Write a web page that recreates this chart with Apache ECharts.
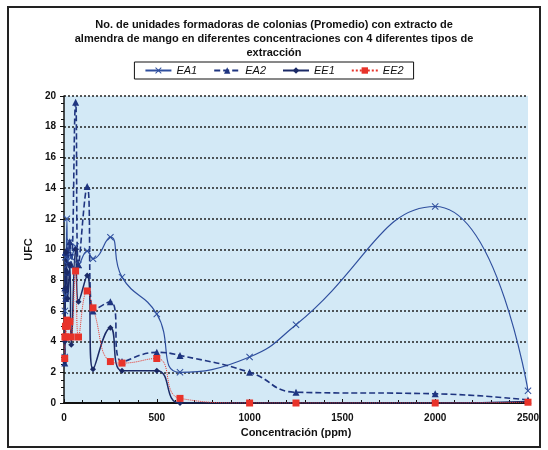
<!DOCTYPE html>
<html>
<head>
<meta charset="utf-8">
<script src="https://cdn.jsdelivr.net/npm/echarts@6/dist/echarts.min.js"></script>
<style>
  html, body { margin: 0; padding: 0; background: #fff; }
  #chart { width: 548px; height: 450px; }
</style>
</head>
<body>
<div id="chart"></div>
<script>
// concentraciones (ppm), ordenadas
var conc = [3.9, 4.88, 7.8, 9.77, 15.6, 19.53, 31.25, 39.06, 62.5, 78.125, 125, 156.25, 250, 312.5, 500, 625, 1000, 1250, 2000, 2500];

// UFC promedio por tipo de extraccion
var ea1 = [3.0, 6.0, 9.5, 7.0, 12.0, 9.0, 10.5, 9.5, 10.2, 9.0, 9.9, 9.4, 10.8, 8.2, 5.8, 2.0, 3.0, 5.1, 12.8, 0.8];
var ea2 = [2.6, 7.5, 9.8, 6.8, 10.0, 8.5, 10.5, 9.0, 19.6, 9.0, 14.1, 6.0, 6.6, 2.7, 3.3, 3.1, 2.0, 0.7, 0.6, 0.2];
var ee1 = [2.7, 4.0, 7.5, 9.8, 8.5, 6.8, 9.0, 3.8, 10.0, 6.6, 8.3, 2.2, 4.9, 2.1, 2.1, 0, 0, 0, 0, 0.1];
var ee2 = [2.9, 4.3, 5.0, 4.3, 5.4, 5.0, 5.3, 4.3, 8.6, 4.3, 7.3, 6.2, 2.7, 2.6, 2.9, 0.3, 0, 0, 0, 0.05];

var titulo = 'No. de unidades formadoras de colonias (Promedio) con extracto de\nalmendra de mango en diferentes concentraciones con 4 diferentes tipos de\nextracción';

function pares(ys) {
  return conc.map(function (c, i) { return [c, ys[i]]; });
}

var cruz = 'path://M0,1L1,0L5,4L9,0L10,1L6,5L10,9L9,10L5,6L1,10L0,9L4,5Z';

var myChart = echarts.init(document.getElementById('chart'));
var option = {
  animation: false,
  backgroundColor: '#fff',
  graphic: [{
    type: 'rect',
    shape: { x: 8, y: 7, width: 532, height: 440 },
    style: { fill: 'none', stroke: '#222', lineWidth: 2 },
    z: -1
  }],
  title: {
    text: titulo,
    left: 'center',
    top: 13,
    textStyle: { fontFamily: 'Liberation Sans', fontSize: 11, fontWeight: 'bold', color: '#111', lineHeight: 14 }
  },
  legend: {
    top: 62,
    left: 'center',
    itemWidth: 26,
    itemHeight: 8,
    itemGap: 16,
    padding: [3, 10],
    borderColor: '#111',
    borderWidth: 1,
    textStyle: { fontFamily: 'Liberation Sans', fontSize: 11, fontStyle: 'italic', color: '#111' },
    data: ['EA1', 'EA2', 'EE1', 'EE2']
  },
  grid: {
    left: 64, right: 20, top: 96, bottom: 47,
    show: true,
    backgroundColor: '#d3e9f6',
    borderWidth: 0
  },
  xAxis: {
    type: 'value',
    min: 0, max: 2500, interval: 500,
    name: 'Concentración (ppm)',
    nameLocation: 'middle',
    nameGap: 22,
    nameTextStyle: { fontFamily: 'Liberation Sans', fontSize: 11, fontWeight: 'bold', color: '#111' },
    axisLine: { lineStyle: { color: '#111', width: 2 } },
    axisTick: { show: true, inside: true, length: 4, lineStyle: { color: '#111' } },
    minorTick: { show: true, splitNumber: 5, length: 3, lineStyle: { color: '#111' } },
    axisLabel: {
      fontFamily: 'Liberation Sans', fontSize: 10, fontWeight: 'bold', color: '#111', margin: 10,
      formatter: function (v) { return String(v); }
    },
    splitLine: { show: false }
  },
  yAxis: {
    type: 'value',
    min: 0, max: 20, interval: 2,
    name: 'UFC',
    nameLocation: 'middle',
    nameGap: 30,
    nameTextStyle: { fontFamily: 'Liberation Sans', fontSize: 11, fontWeight: 'bold', color: '#111' },
    axisLine: { show: true, lineStyle: { color: '#111', width: 1.5 } },
    axisTick: { show: true, length: 4, lineStyle: { color: '#111' } },
    minorTick: { show: true, splitNumber: 4, length: 3, lineStyle: { color: '#111' } },
    axisLabel: { fontFamily: 'Liberation Sans', fontSize: 10, fontWeight: 'bold', color: '#111', margin: 8 },
    splitLine: { show: true, lineStyle: { color: '#222', width: 1.5, type: [2, 2] } }
  },
  series: [
    {
      name: 'EA1', type: 'line', smooth: 0.5,
      data: pares(ea1),
      symbol: cruz, symbolSize: 7,
      lineStyle: { color: '#2f4f9e', width: 1.2 },
      itemStyle: { color: '#2f4f9e' }
    },
    {
      name: 'EA2', type: 'line', smooth: 0.5,
      data: pares(ea2),
      symbol: 'triangle', symbolSize: 7,
      lineStyle: { color: '#1f3580', width: 1.6, type: [6, 3] },
      itemStyle: { color: '#1f3580' }
    },
    {
      name: 'EE1', type: 'line', smooth: 0.5,
      data: pares(ee1),
      symbol: 'diamond', symbolSize: 6,
      lineStyle: { color: '#1b2a66', width: 1.5 },
      itemStyle: { color: '#1b2a66' }
    },
    {
      name: 'EE2', type: 'line', smooth: 0.5,
      data: pares(ee2),
      symbol: 'rect', symbolSize: 7,
      lineStyle: { color: '#e8332a', width: 1, type: 'dotted' },
      itemStyle: { color: '#e8332a' }
    }
  ]
};
myChart.setOption(option);
</script>
</body>
</html>
